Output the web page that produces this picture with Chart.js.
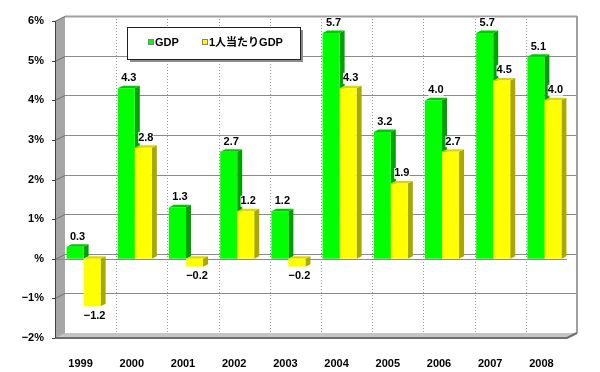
<!DOCTYPE html>
<html>
<head>
<meta charset="utf-8">
<script src="https://cdn.jsdelivr.net/npm/chart.js@4/dist/chart.umd.min.js"></script>
<style>
  html, body { margin: 0; padding: 0; background: #fff; }
</style>
</head>
<body>
<canvas id="chart" width="600" height="372"></canvas>
<script>
const years     = ['1999', '2000', '2001', '2002', '2003', '2004', '2005', '2006', '2007', '2008'];
const gdp       = [0.3, 4.3, 1.3, 2.7, 1.2, 5.7, 3.2, 4.0, 5.7, 5.1];
const perCapita = [-1.2, 2.8, -0.2, 1.2, -0.2, 4.3, 1.9, 2.7, 4.5, 4.0];
const seriesNames = ['GDP', '1人当たりGDP'];
const yMin = -2, yMax = 6, yStep = 1;

const FONT = '"Liberation Sans", "Noto Sans CJK JP", sans-serif';
const MINUS = '\u2212';

// 3D look
const DX = 10, DY = -5;          // wall depth
const BDX = 5, BDY = -2.5;       // bar depth
const SHIFT = 3;                 // bars sit a little behind the front plane

const faceColors = [
  { side: '#00a000', top: '#00c800' },
  { side: '#a8a800', top: '#d8d800' },
];

function fmt(v) {
  const s = Math.abs(v).toFixed(1);
  return v < 0 ? MINUS + s : s;
}

/* ── walls, floor, grid and bar sides ── */
const box3d = {
  id: 'box3d',
  beforeDatasetsDraw(chart) {
    const { ctx, chartArea: a, scales: { y } } = chart;
    const L = a.left - SHIFT, R = a.right - SHIFT;
    const yb = y.getPixelForValue(yMin), yt = y.getPixelForValue(yMax);
    ctx.save();

    // vertical dotted lines on the back wall
    ctx.strokeStyle = '#9a9a9a';
    ctx.lineWidth = 1;
    ctx.setLineDash([1, 2]);
    for (let i = 1; i < years.length; i++) {
      const x = Math.round(L + DX + i * (R - L) / years.length) + 0.5;
      ctx.beginPath();
      ctx.moveTo(x, yt + DY);
      ctx.lineTo(x, yb + DY);
      ctx.stroke();
    }
    ctx.setLineDash([]);

    // side wall
    ctx.fillStyle = '#a6a6a6';
    ctx.beginPath();
    ctx.moveTo(L, yt);
    ctx.lineTo(L + DX, yt + DY);
    ctx.lineTo(L + DX, yb + DY);
    ctx.lineTo(L, yb);
    ctx.closePath();
    ctx.fill();

    // horizontal grid: back wall + side wall
    for (let v = yMin; v <= yMax; v += yStep) {
      const yy = Math.round(y.getPixelForValue(v)) + 0.5;
      ctx.strokeStyle = v === yMax ? '#a0a0a0' : '#8a8a8a';
      ctx.lineWidth = v === yMax ? 2 : 1;
      ctx.beginPath();
      ctx.moveTo(L + DX, yy + DY);
      ctx.lineTo(R + DX, yy + DY);
      ctx.stroke();
      ctx.strokeStyle = '#6e6e6e';
      ctx.lineWidth = 1;
      ctx.beginPath();
      ctx.moveTo(L, yy);
      ctx.lineTo(L + DX, yy + DY);
      ctx.stroke();
    }

    // back wall right edge
    ctx.strokeStyle = '#a0a0a0';
    ctx.lineWidth = 2;
    ctx.beginPath();
    ctx.moveTo(R + DX, yt + DY);
    ctx.lineTo(R + DX, yb + DY);
    ctx.stroke();

    // floor
    ctx.fillStyle = '#c4c4c4';
    ctx.beginPath();
    ctx.moveTo(L, yb);
    ctx.lineTo(R, yb);
    ctx.lineTo(R + DX, yb + DY);
    ctx.lineTo(L + DX, yb + DY);
    ctx.closePath();
    ctx.fill();
    ctx.strokeStyle = '#6e6e6e';
    ctx.lineWidth = 2;
    ctx.beginPath();
    ctx.moveTo(L, yb);
    ctx.lineTo(R, yb);
    ctx.lineTo(R + DX, yb + DY);
    ctx.stroke();

    // zero plane front edge
    const y0 = Math.round(y.getPixelForValue(0)) + 0.5;
    ctx.strokeStyle = '#8a8a8a';
    ctx.lineWidth = 1;
    ctx.beginPath();
    ctx.moveTo(L, y0);
    ctx.lineTo(R, y0);
    ctx.stroke();

    // front axis line and ticks
    ctx.strokeStyle = '#404040';
    ctx.beginPath();
    ctx.moveTo(L + 0.5, yt);
    ctx.lineTo(L + 0.5, yb);
    for (let v = yMin; v <= yMax; v += yStep) {
      const yy = Math.round(y.getPixelForValue(v)) + 0.5;
      ctx.moveTo(L - 3, yy);
      ctx.lineTo(L, yy);
    }
    ctx.stroke();

    // bar side and top faces (fronts drawn by Chart.js cover what they should)
    chart.data.datasets.forEach((ds, di) => {
      const meta = chart.getDatasetMeta(di);
      meta.data.forEach(el => {
        const { x, y: ey, base, width } = el.getProps(['x', 'y', 'base', 'width'], true);
        const left = x - width / 2, right = x + width / 2;
        const top = Math.min(ey, base), bottom = Math.max(ey, base);
        ctx.fillStyle = faceColors[di].side;
        ctx.beginPath();
        ctx.moveTo(right, top);
        ctx.lineTo(right + BDX, top + BDY);
        ctx.lineTo(right + BDX, bottom + BDY);
        ctx.lineTo(right, bottom);
        ctx.closePath();
        ctx.fill();
        ctx.fillStyle = faceColors[di].top;
        ctx.beginPath();
        ctx.moveTo(left, top);
        ctx.lineTo(left + BDX, top + BDY);
        ctx.lineTo(right + BDX, top + BDY);
        ctx.lineTo(right, top);
        ctx.closePath();
        ctx.fill();
      });
    });
    ctx.restore();
  },

  /* ── value labels + legend ── */
  afterDatasetsDraw(chart) {
    const { ctx } = chart;
    ctx.save();
    ctx.font = `bold 11px ${FONT}`;
    ctx.textAlign = 'center';
    ctx.textBaseline = 'middle';
    chart.data.datasets.forEach((ds, di) => {
      chart.getDatasetMeta(di).data.forEach((el, i) => {
        const v = ds.data[i];
        const { x, y: ey } = el.getProps(['x', 'y'], true);
        const cx = x + BDX / 2;
        const cy = v >= 0 ? ey + BDY - 8 : ey + 9;
        const txt = fmt(v);
        const w = ctx.measureText(txt).width;
        ctx.fillStyle = '#fff';
        ctx.fillRect(cx - w / 2, cy - 5, w, 11);
        ctx.fillStyle = '#000';
        ctx.fillText(txt, cx, cy + 0.5);
      });
    });

    // legend box
    const bx = 127, by = 27, bw = 173, bh = 32;
    ctx.fillStyle = '#8c8c8c';
    ctx.fillRect(bx + 3, by + 3, bw, bh);
    ctx.fillStyle = '#fff';
    ctx.fillRect(bx, by, bw, bh);
    ctx.strokeStyle = '#202020';
    ctx.lineWidth = 1;
    ctx.strokeRect(bx + 0.5, by + 0.5, bw, bh);
    ctx.textAlign = 'left';
    const itemX = [148, 202];
    chart.data.datasets.forEach((ds, di) => {
      const lx = itemX[di], ly = by + bh / 2;
      ctx.fillStyle = ds.backgroundColor;
      ctx.fillRect(lx, ly - 4, 6, 6);
      ctx.strokeStyle = '#808080';
      ctx.strokeRect(lx + 0.5, ly - 3.5, 5, 5);
      ctx.fillStyle = '#000';
      ctx.fillText(ds.label, lx + 7, ly);
    });
    ctx.restore();
  },
};

new Chart(document.getElementById('chart'), {
  type: 'bar',
  data: {
    labels: years,
    datasets: [
      { label: seriesNames[0], data: gdp,       backgroundColor: '#00ff00' },
      { label: seriesNames[1], data: perCapita, backgroundColor: '#ffff00' },
    ],
  },
  options: {
    responsive: false,
    animation: false,
    layout: { padding: { top: 21, right: 30, left: 0, bottom: 0 } },
    datasets: {
      bar: { categoryPercentage: 0.665, barPercentage: 1, borderWidth: 0 },
    },
    plugins: {
      legend: { display: false },
      tooltip: { enabled: false },
    },
    scales: {
      x: {
        grid: { display: false },
        border: { display: false },
        ticks: {
          color: '#000',
          font: { family: FONT, size: 11, weight: 'bold' },
          padding: 11,
          labelOffset: -SHIFT,
          maxRotation: 0,
        },
        afterFit: s => { s.height = 34; },
      },
      y: {
        min: yMin,
        max: yMax,
        grid: { display: false, drawTicks: false },
        border: { display: false },
        ticks: {
          stepSize: yStep,
          color: '#000',
          font: { family: FONT, size: 11, weight: 'bold' },
          padding: 14,
          callback: v => v === 0 ? '%' : (v < 0 ? MINUS + Math.abs(v) : v) + '%',
        },
        afterFit: s => { s.width = 58; },
      },
    },
  },
  plugins: [box3d],
});
</script>
</body>
</html>
